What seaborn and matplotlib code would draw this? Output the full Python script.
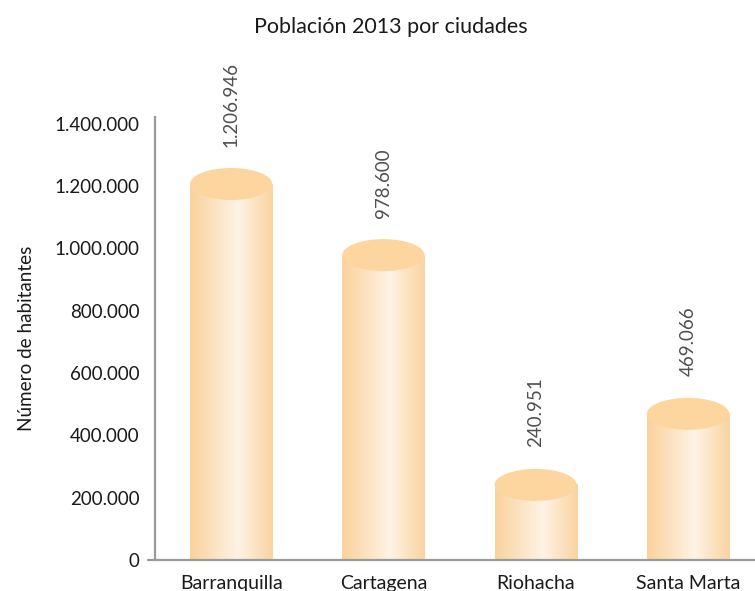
import numpy as np
import pandas as pd
import matplotlib
matplotlib.use("Agg")
import matplotlib.pyplot as plt
import seaborn as sns
from matplotlib.patches import Ellipse

# Population figures for 2013
ciudades = ["Barranquilla", "Cartagena", "Riohacha", "Santa Marta"]
habitantes = [1206946, 978600, 240951, 469066]
etiquetas = ["1.206.946", "978.600", "240.951", "469.066"]
yticks = [0, 200000, 400000, 600000, 800000, 1000000, 1200000, 1400000]
ytick_labels = ["0", "200.000", "400.000", "600.000", "800.000",
                "1.000.000", "1.200.000", "1.400.000"]

sns.set_theme(style="white")
plt.rcParams["font.family"] = ["Lato", "DejaVu Sans"]

df = pd.DataFrame({"ciudad": ciudades, "habitantes": habitantes})

fig = plt.figure(figsize=(7.55, 5.91), dpi=100)
ax = fig.add_axes([0.2053, 0.0525, 0.7947, 0.7495])

bar_w = 0.54
sns.barplot(data=df, x="ciudad", y="habitantes", color="#fbd39c",
            width=bar_w, ax=ax, zorder=2)

xlim = (-0.5, 3.44)
ylim = (0, 1422000)

# cylinder body shading: darker rims, bright band right of centre
cols = 200
t = np.linspace(0, 1, cols)
left = np.array([250, 210, 156]) / 255
mid = np.array([254, 243, 228]) / 255
right = np.array([250, 212, 160]) / 255
grad = np.empty((1, cols, 3))
for c in range(3):
    grad[0, :, c] = np.interp(t, [0, 0.58, 1], [left[c], mid[c], right[c]])

# ellipse height equal to ~32 px on the value axis
ax_h_px = 0.7495 * 591
cap_h = 32 / ax_h_px * (ylim[1] - ylim[0])

for p in ax.patches:
    x0, w, h = p.get_x(), p.get_width(), p.get_height()
    p.set_alpha(0)
    ax.imshow(grad, extent=[x0, x0 + w, 0, h], aspect="auto",
              zorder=2, interpolation="bilinear")
    ax.add_patch(Ellipse((x0 + w / 2, h), w, cap_h, facecolor="#fcd59f",
                         edgecolor="none", zorder=3))

for i, (v, lab) in enumerate(zip(habitantes, etiquetas)):
    ax.annotate(lab, (i, v), xytext=(0, 27), textcoords="offset points",
                rotation=90, ha="center", va="bottom", fontsize=13.5,
                color="#505050")

ax.set_xlim(*xlim)
ax.set_ylim(*ylim)
ax.set_yticks(yticks)
ax.set_yticklabels(ytick_labels, fontsize=13.5, color="#1a1a1a")
ax.tick_params(axis="y", length=0, pad=11)
ax.tick_params(axis="x", length=0, pad=11, labelsize=14, labelcolor="#1a1a1a")
ax.set_xlabel("")
ax.set_ylabel("Número de habitantes", fontsize=13.6, color="#1a1a1a", labelpad=14)

for s in ["top", "right", "bottom"]:
    ax.spines[s].set_visible(False)
ax.spines["left"].set_color("#9a9a9a")
ax.spines["left"].set_linewidth(1.6)
ax.plot([-0.011, 1], [0, 0], transform=ax.transAxes, clip_on=False,
        color="#9a9a9a", lw=1.6, zorder=4)

fig.text(0.517, 0.955, "Población 2013 por ciudades", ha="center", va="center",
         fontsize=15.5, color="#1a1a1a")

fig.savefig("out.png", dpi=100)
